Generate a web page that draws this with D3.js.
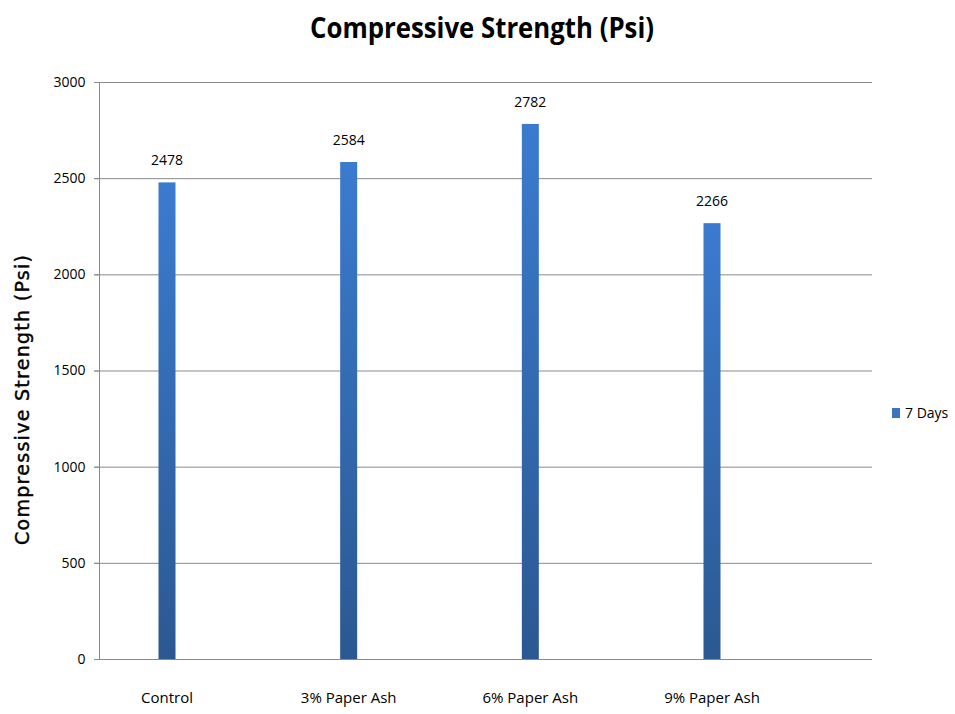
<!DOCTYPE html>
<meta charset="utf-8">
<script src="https://d3js.org/d3.v7.min.js"></script>
<style>
  body { margin: 0; background: #fff; }
  text { font-family: "Open Sans", "Liberation Sans", sans-serif; fill: #000; }
</style>
<div id="vis"></div>
<script>

    // chart data
    var categories = ["Control", "3% Paper Ash", "6% Paper Ash", "9% Paper Ash"];
    var values = [2478, 2584, 2782, 2266];
    var yTicks = [0, 500, 1000, 1500, 2000, 2500, 3000];
    var seriesName = "7 Days";

    var W = 955, H = 714;
    var margin = { top: 82, right: 83, bottom: 55, left: 99 },
        width = W - margin.left - margin.right,
        height = H - margin.top - margin.bottom;

    var svg = d3.select("#vis")
        .append("svg")
        .attr("width", W)
        .attr("height", H);

    // gradient for the bars (lighter at top)
    var grad = svg.append("defs").append("linearGradient")
        .attr("id", "barGrad")
        .attr("x1", 0).attr("y1", 0).attr("x2", 0).attr("y2", 1);
    grad.append("stop").attr("offset", "0%").attr("stop-color", "#3b7bcf");
    grad.append("stop").attr("offset", "100%").attr("stop-color", "#2b5891");

    var g = svg.append("g")
        .attr("transform", "translate(" + margin.left + "," + margin.top + ")");

    // scales
    var y = d3.scaleLinear().domain([0, 3000]).range([height, 0]);
    var x = d3.scalePoint().domain(categories).range([68, 613]);
    var barW = 17;

    // gridlines
    g.selectAll(".grid")
        .data(yTicks)
        .enter()
        .append("line")
        .attr("x1", -5)
        .attr("x2", width)
        .attr("y1", d => y(d) + 0.5)
        .attr("y2", d => y(d) + 0.5)
        .style("stroke", "#8a8a8a")
        .style("stroke-width", 1);

    // y axis
    g.append("g")
        .attr("transform", "translate(0.5,0)")
        .call(d3.axisLeft(y).tickValues(yTicks).tickFormat(d3.format("d")).tickSize(5).tickPadding(9))
        .call(a => a.selectAll("line, .domain").style("stroke", "#8a8a8a"))
        .call(a => a.select(".domain").attr("d", "M0," + height + "V0"))
        .selectAll("text")
        .style("font-size", "14px")
        .style("fill", "#000");

    // bars
    g.selectAll(".bar")
        .data(values)
        .enter()
        .append("rect")
        .attr("x", (d, i) => x(categories[i]) - barW / 2)
        .attr("y", d => y(d))
        .attr("width", barW)
        .attr("height", d => height - y(d))
        .style("fill", "url(#barGrad)");

    // value labels
    g.selectAll(".val")
        .data(values)
        .enter()
        .append("text")
        .attr("x", (d, i) => x(categories[i]))
        .attr("y", d => y(d) - 17)
        .attr("text-anchor", "middle")
        .style("font-size", "14px")
        .text(d => d);

    // category labels
    g.selectAll(".cat")
        .data(categories)
        .enter()
        .append("text")
        .attr("x", d => x(d))
        .attr("y", height + 44)
        .attr("text-anchor", "middle")
        .style("font-size", "15px")
        .text(d => d);

    // title
    svg.append("text")
        .attr("x", 482)
        .attr("y", 38)
        .attr("text-anchor", "middle")
        .attr("textLength", 344)
        .attr("lengthAdjust", "spacingAndGlyphs")
        .style("font-size", "29px")
        .style("font-weight", "bold")
        .text("Compressive Strength (Psi)");

    // y axis title
    svg.append("text")
        .attr("transform", "translate(29,400) rotate(-90)")
        .attr("text-anchor", "middle")
        .attr("textLength", 290)
        .attr("lengthAdjust", "spacing")
        .style("font-family", "DejaVu Sans")
        .style("font-size", "19px")
        .style("stroke", "#000")
        .style("stroke-width", 0.4)
        .text("Compressive Strength (Psi)");

    // legend
    var lg = svg.append("g").attr("transform", "translate(892,408)");
    lg.append("rect")
        .attr("width", 8).attr("height", 10)
        .style("fill", "#3a73c0");
    lg.append("text")
        .attr("x", 13).attr("y", 10)
        .style("font-size", "14px")
        .text(seriesName);

</script>
